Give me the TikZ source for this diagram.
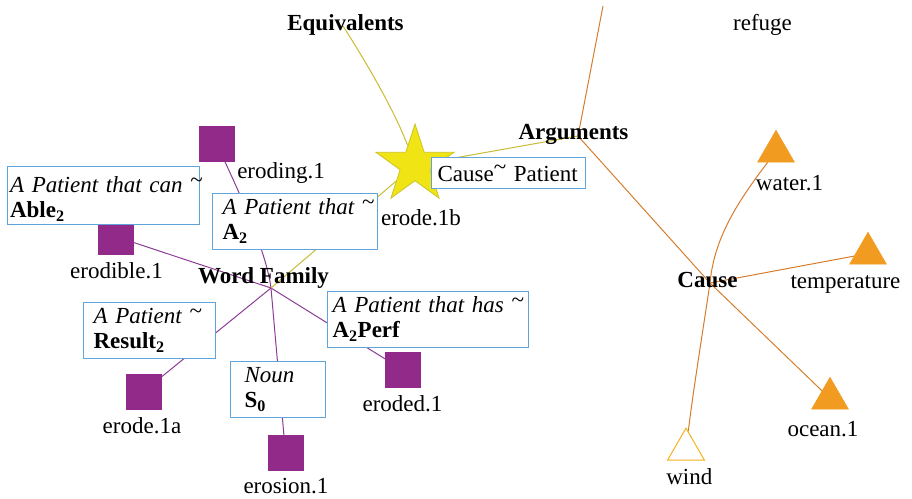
\documentclass[tikz,border=0pt]{standalone}
\usepackage{fontspec}
\setmainfont{Liberation Serif}
\usetikzlibrary{shapes.geometric}
\pgfdeclarelayer{background}
\pgfsetlayers{background,main}
\definecolor{sqpurple}{RGB}{146,42,138}
\definecolor{famcol}{RGB}{140,60,150}
\definecolor{boxblue}{RGB}{95,165,220}
\definecolor{staryellow}{RGB}{240,228,20}
\definecolor{starrim}{RGB}{205,195,40}
\definecolor{eqcol}{RGB}{200,188,50}
\definecolor{triorange}{RGB}{242,155,33}
\definecolor{argcol}{RGB}{214,125,45}
\definecolor{windrim}{RGB}{246,178,30}
% raised tilde used in the role glosses
\newcommand\hitilde[1][.2em]{\raisebox{#1}{\char"7E}}
\begin{document}
\begin{tikzpicture}[x=1pt,y=-1pt,
  font=\fontsize{23pt}{25pt}\selectfont,
  sense/.style={rectangle, draw=sqpurple, fill=sqpurple, minimum size=35pt, inner sep=0pt},
  gloss/.style={rectangle, draw=boxblue, line width=1.1pt, fill=white, anchor=north west,
    inner ysep=0pt, text height=21pt, text depth=35pt, align=left},
  role/.style={regular polygon, regular polygon sides=3, fill=triorange, draw=triorange,
    minimum size=42.7pt, inner sep=0pt},
  openrole/.style={regular polygon, regular polygon sides=3, fill=white, draw=windrim,
    line width=1pt, minimum size=42.7pt, inner sep=0pt},
  hubtext/.style={font=\fontsize{23pt}{25pt}\selectfont\bfseries},
  famline/.style={draw=famcol, line width=1pt},
  eqvline/.style={draw=eqcol, line width=1pt},
  argline/.style={draw=argcol, line width=1pt}]
\useasboundingbox (0,0) rectangle (912,498);

% hub points of the three groups
\coordinate (wf) at (271,288);
\coordinate (eqv) at (343,26);
\coordinate (args) at (578,136);
\coordinate (cz) at (710,283);
\coordinate (topend) at (603,6);

% word senses
\node[sense] (eroding) at (216.5,143.5) {};
\node[sense] (erodible) at (115.5,236.5) {};
\node[sense] (erodea) at (143.5,391.5) {};
\node[sense] (erosion) at (285.5,453) {};
\node[sense] (eroded) at (403,370) {};

% glosses of the derivation relations
\node[gloss, inner xsep=2.5pt, text width=187pt, text height=26pt, text depth=32pt] (able) at (7,166)
  {\mbox{\itshape A Patient that can \hitilde}\\\mbox{\bfseries Able\textsubscript{2}}};
\node[gloss, inner xsep=10pt, text width=145pt] (atwo) at (212,193)
  {\mbox{\itshape A Patient that \hitilde}\\\mbox{\bfseries A\textsubscript{2}}};
\node[gloss, inner xsep=10pt, text width=112pt] (result) at (83,302)
  {\mbox{\itshape A Patient \hitilde}\\\mbox{\bfseries Result\textsubscript{2}}};
\node[gloss, inner xsep=14pt, text width=67pt] (noun) at (230,361)
  {\mbox{\itshape Noun}\\\mbox{\bfseries S\textsubscript{0}}};
\node[gloss, inner xsep=5pt, text width=191pt] (perf) at (327,291)
  {\mbox{\itshape A Patient that has \hitilde}\\\mbox{\bfseries A\textsubscript{2}Perf}};

% the equivalent sense
\node[star, star points=5, star point ratio=2.618, minimum size=82pt, inner sep=0pt,
  fill=staryellow, draw=starrim, line width=0.8pt] (star) at (415,165) {};
\node[gloss, inner xsep=6pt, text width=142pt, text height=24pt, text depth=7pt] (causepat) at (431,157)
  {Cause\hitilde[.3em] Patient};

% argument fillers
\node[role] (water) at (776,151.5) {};
\node[role] (temp) at (868,253.5) {};
\node[role] (ocean) at (830,398.5) {};
\node[openrole] (wind) at (686,449.5) {};

% labels
\node[hubtext] (wflabel) at (263.5,278) {Word Family};
\node[hubtext] (eqvlabel) at (345.5,25) {Equivalents};
\node[hubtext] (arglabel) at (573.5,134) {Arguments};
\node[hubtext] (czlabel) at (707.5,280) {Cause};
\node (refuge) at (762.5,25) {refuge};
\node (erodinglbl) at (281,172.5) {eroding.1};
\node (erodeblbl) at (421,218) {erode.1b};
\node (erodiblelbl) at (116.5,271) {erodible.1};
\node (erodealbl) at (142,425.5) {erode.1a};
\node (erosionlbl) at (286,486.5) {erosion.1};
\node (erodedlbl) at (402.5,403.7) {eroded.1};
\node (waterlbl) at (789.5,183.3) {water.1};
\node (templbl) at (845.5,284) {temperature};
\node (oceanlbl) at (823,429) {ocean.1};
\node (windlbl) at (689.3,476.7) {wind};

% connectors
\begin{pgfonlayer}{background}
\draw[famline] (wf) .. controls (266,250) and (238,190) .. (eroding);
\draw[famline] (wf) -- (erodible);
\draw[famline] (wf) -- (erodea);
\draw[famline] (wf) -- (erosion);
\draw[famline] (wf) -- (eroded);
\draw[eqvline] (wf) -- (star);
\draw[eqvline] (eqv) .. controls (368,65) and (395,112) .. (star);
\draw[eqvline] (star) -- (args);
\draw[argline] (topend) -- (args);
\draw[argline] (args) -- (cz);
\draw[argline] (cz) .. controls (714,240) and (735,205) .. (water);
\draw[argline] (cz) -- (temp);
\draw[argline] (cz) -- (ocean);
\draw[argline] (cz) .. controls (703,330) and (694,385) .. (wind);
\end{pgfonlayer}
\end{tikzpicture}
\end{document}
